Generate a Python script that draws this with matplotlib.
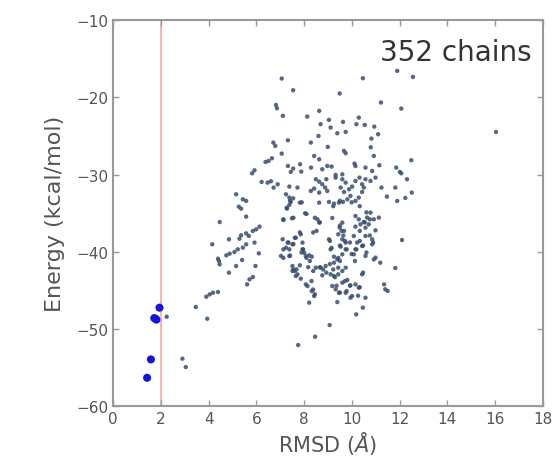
import matplotlib
matplotlib.use("Agg")
import matplotlib.pyplot as plt

# decoy chains: (RMSD, energy)
rmsd = [
    7.06, 7.54, 9.49, 10.46, 11.90, 12.56, 11.22, 12.07, 16.04, 6.82,
    6.86, 7.11, 8.13, 8.63, 9.04, 8.69, 9.11, 9.63, 9.39, 9.74,
    10.29, 10.19, 10.54, 10.94, 11.10, 10.82, 8.60, 8.28, 7.32, 6.71,
    6.79, 7.06, 8.99, 9.67, 9.74, 10.79, 10.92, 8.42, 8.63, 6.65,
    6.51, 6.38, 7.32, 7.44, 7.54, 7.83, 7.88, 8.29, 8.76, 8.97,
    9.15, 9.32, 9.60, 10.11, 10.15, 10.57, 10.85, 11.15, 11.86, 12.01,
    12.49, 5.82, 5.92, 6.22, 6.47, 6.61, 6.72, 6.89, 7.38, 7.72,
    7.24, 7.38, 7.44, 7.54, 7.28, 7.38, 7.82, 8.04, 7.13, 7.49,
    8.56, 8.63, 9.18, 8.49, 8.63, 8.76, 8.88, 8.97, 8.42, 8.28,
    8.63, 8.93, 9.32, 9.60, 9.74, 9.53, 9.67, 9.88, 10.01, 10.15,
    10.32, 10.43, 10.57, 10.78, 10.99, 9.46, 9.63, 9.81, 9.94, 10.15,
    10.29, 10.43, 10.50, 9.25, 9.04, 8.63, 11.24, 11.47, 11.82, 11.90,
    12.24, 12.51, 12.31, 12.07, 10.15, 10.29, 10.50, 10.64, 10.78, 10.92,
    11.13, 10.71, 10.36, 10.57, 10.99, 10.15, 10.57, 10.85, 9.60, 9.49,
    9.67, 9.43, 9.60, 9.74, 9.53, 9.74, 9.60, 9.39, 9.25, 9.04,
    9.11, 10.08, 10.22, 10.15, 10.08, 10.43, 10.85, 10.57, 10.92, 12.10,
    11.82, 5.15, 5.43, 5.57, 5.26, 5.36, 5.57, 4.46, 4.15, 4.39,
    4.43, 4.46, 4.74, 4.88, 5.08, 5.22, 5.43, 5.57, 5.29, 5.36,
    5.57, 5.68, 5.85, 5.99, 6.13, 5.92, 6.10, 5.40, 5.15, 4.85,
    5.96, 5.71, 5.85, 5.61, 4.85, 7.10, 7.31, 7.24, 7.38, 7.51,
    7.65, 7.86, 7.93, 7.03, 7.38, 7.51, 7.68, 7.82, 7.93, 8.00,
    8.07, 8.21, 8.32, 7.65, 7.72, 7.51, 7.86, 8.07, 8.14, 8.32,
    8.42, 8.21, 8.49, 8.69, 8.90, 8.76, 8.93, 9.11, 9.25, 9.43,
    9.60, 9.74, 9.25, 9.43, 9.18, 9.32, 9.46, 9.60, 9.81, 9.94,
    10.15, 10.29, 10.01, 9.94, 9.74, 9.39, 10.43, 10.57, 10.99, 11.19,
    11.35, 11.40, 11.50, 10.46, 10.18, 9.07, 8.46, 7.75, 3.46, 3.90,
    4.04, 4.18, 4.39, 3.94, 2.24, 2.90, 3.04,
    7.41, 7.90, 7.27, 7.13, 7.55, 8.10, 8.45, 8.66, 8.38, 8.52,
    7.82, 7.61, 7.34, 7.55, 7.13, 7.96, 7.89, 8.10, 8.24, 7.41,
    7.13, 7.55, 7.61, 8.17, 8.38, 8.66, 8.80, 9.08, 9.22, 9.08,
    9.15, 9.50, 9.57, 9.64, 9.71, 9.50, 9.43, 9.50, 9.78, 9.92,
    9.99, 10.13, 10.19, 10.33, 10.47, 10.61, 10.75, 10.89, 10.33, 10.54,
    10.75, 10.61, 10.33, 9.99, 9.50, 9.22, 9.29, 9.36, 9.50, 9.71,
    9.92, 9.78, 10.33, 10.26, 10.47, 8.31, 8.38, 8.45,
]
energy = [
    -17.56, -19.08, -19.50, -17.52, -16.57, -17.35, -20.67, -21.45, -24.48, -20.98,
    -21.41, -22.40, -22.49, -21.75, -22.92, -23.48, -23.91, -23.18, -24.65, -24.48,
    -22.62, -23.48, -23.57, -23.79, -24.78, -25.34, -25.00, -25.86, -25.56, -25.86,
    -26.29, -27.29, -26.42, -26.94, -27.24, -26.47, -27.59, -27.59, -28.02, -27.89,
    -28.24, -28.37, -28.89, -29.66, -29.23, -28.67, -29.62, -29.10, -29.32, -28.89,
    -28.97, -30.05, -29.97, -28.58, -28.89, -29.10, -29.53, -28.80, -29.10, -29.66,
    -28.15, -29.84, -29.45, -30.96, -31.05, -30.87, -31.69, -31.26, -31.56, -31.69,
    -32.56, -32.99, -33.55, -33.08, -34.42, -33.94, -33.64, -35.02, -35.89, -35.67,
    -35.80, -36.23, -35.63, -30.61, -30.92, -31.26, -31.69, -32.13, -31.82, -32.13,
    -32.34, -30.61, -30.40, -30.61, -31.05, -31.69, -32.26, -31.91, -31.56, -30.83,
    -30.40, -31.26, -30.61, -30.83, -30.40, -33.64, -33.55, -33.21, -32.77, -33.42,
    -32.99, -32.26, -31.69, -33.77, -33.55, -33.64, -31.69, -32.86, -31.69, -33.42,
    -33.03, -32.34, -30.61, -29.84, -35.37, -35.80, -36.14, -35.58, -34.94, -35.80,
    -35.58, -36.45, -36.45, -36.88, -37.23, -36.75, -37.96, -38.39, -36.23, -36.88,
    -37.31, -37.74, -38.39, -38.82, -39.34, -39.69, -40.34, -40.99, -40.64, -38.39,
    -39.69, -37.96, -38.82, -39.69, -40.34, -39.26, -39.04, -40.55, -40.99, -38.48,
    -42.11, -32.56, -33.21, -33.42, -34.16, -34.42, -35.45, -36.15, -39.04, -40.90,
    -41.20, -41.63, -40.47, -40.25, -40.03, -39.69, -39.47, -39.04, -38.31, -37.87,
    -37.62, -37.96, -37.31, -37.10, -36.75, -38.82, -40.21, -41.07, -41.85, -42.71,
    -41.85, -43.58, -43.28, -44.23, -38.39, -38.39, -38.82, -39.47, -39.69, -39.04,
    -38.18, -37.74, -38.82, -40.55, -40.55, -41.85, -42.28, -41.76, -39.69, -40.12,
    -40.55, -40.47, -40.64, -43.15, -42.93, -42.50, -43.49, -44.23, -44.44, -45.09,
    -45.74, -46.60, -42.07, -42.07, -41.85, -43.06, -42.71, -42.93, -43.15, -42.93,
    -42.50, -42.07, -41.42, -42.07, -44.44, -44.87, -45.31, -44.01, -43.66, -44.36,
    -44.23, -44.66, -45.74, -45.96, -45.31, -46.52, -42.93, -45.96, -40.77, -41.42,
    -44.23, -44.87, -45.09, -47.25, -48.12, -49.50, -51.01, -52.09, -47.16, -45.83,
    -45.53, -45.31, -45.22, -48.68, -48.42, -53.86, -54.94,
    -33.4, -33.6, -34.3, -35.8, -35.6, -35.1, -35.6, -36.2, -37.5, -37.3,
    -37.5, -38.2, -38.8, -39.0, -39.7, -39.7, -40.1, -40.8, -41.2, -40.5,
    -40.8, -42.3, -42.5, -42.0, -42.5, -42.0, -42.3, -41.6, -42.3, -38.6,
    -39.5, -36.6, -37.3, -37.9, -38.6, -39.2, -40.8, -41.2, -39.7, -38.8,
    -40.3, -41.2, -39.7, -38.6, -39.2, -40.1, -37.9, -38.8, -37.3, -36.2,
    -35.8, -34.9, -34.1, -33.6, -33.4, -34.1, -43.3, -44.4, -45.3, -43.8,
    -44.4, -45.1, -44.6, -45.7, -42.7, -43.8, -44.9, -45.5,
]

# near-native chains (blue)
good_rmsd = [1.94, 1.72, 1.81, 1.78, 1.58, 1.42]
good_energy = [-47.25, -48.6, -48.8, -48.7, -53.95, -56.33]

cutoff = 2.0
n_chains = 352

fig = plt.figure(figsize=(5.55, 4.6), dpi=100)
ax = fig.add_axes([0.204, 0.115, 0.774, 0.839])

ax.axvline(cutoff, color='#ff8c8c', lw=1.2, alpha=0.8, zorder=1)
ax.scatter(rmsd, energy, s=10, color='#3a4d70', alpha=0.85, edgecolors='none', zorder=2)
ax.scatter(good_rmsd, good_energy, s=34, color='#1414dc', edgecolors='none', zorder=3)

ax.set_xlim(0, 18)
ax.set_ylim(-60, -10)
ax.set_xticks(range(0, 19, 2))
ax.set_yticks(range(-60, -9, 10))

for sp in ax.spines.values():
    sp.set_color('#999999')
    sp.set_linewidth(1.5)
ax.tick_params(direction='in', top=True, right=True, length=4, width=1,
               color='#999999', labelcolor='#555555', labelsize=11)

ax.set_xlabel(r'RMSD ($\AA$)', fontsize=15, color='#555555', labelpad=2)
ax.set_ylabel('Energy (kcal/mol)', fontsize=16, color='#555555', labelpad=8)
ax.text(0.975, 0.955, f'{n_chains} chains', transform=ax.transAxes,
        ha='right', va='top', fontsize=20, color='#333333')

fig.savefig('out.png', dpi=100)
